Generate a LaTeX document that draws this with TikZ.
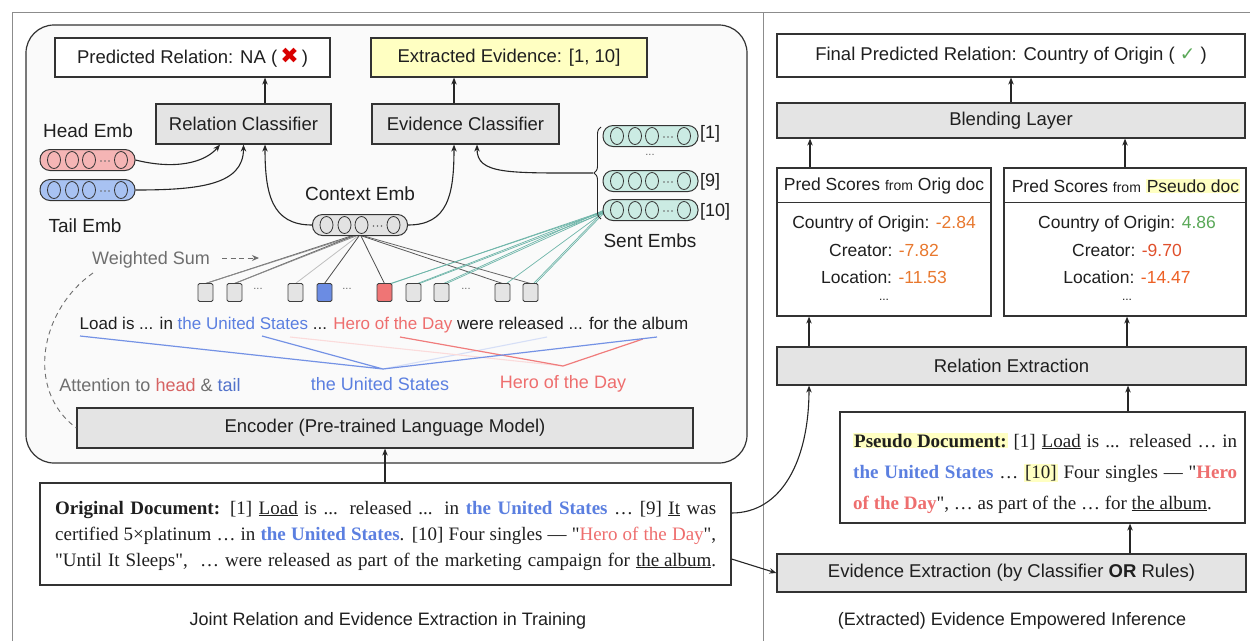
\documentclass[tikz,border=0pt]{standalone}
\usepackage{fontspec}
\setmainfont{Liberation Sans}
\newfontfamily\tms{Liberation Serif}
\newfontfamily\djv{DejaVu Sans}
\usetikzlibrary{arrows.meta,fit,decorations.pathreplacing,calc}
\definecolor{boxgray}{HTML}{E4E4E4}
\definecolor{hlyellow}{HTML}{FFFFC2}
\definecolor{eblue}{HTML}{5B7FE0}
\definecolor{ered}{HTML}{EE6E6E}
\definecolor{teal2}{HTML}{3E9C8C}
\definecolor{sorange}{HTML}{E8782E}
\definecolor{sgreen}{HTML}{5AA858}
\definecolor{sred}{HTML}{E0502C}
\definecolor{headfill}{HTML}{F5B5B5}
\definecolor{tailfill}{HTML}{A8C2F2}
\definecolor{sentfill}{HTML}{CBEBE3}
\definecolor{ctxfill}{HTML}{E2E2E2}
\definecolor{txtgray}{HTML}{6E6E6E}
\newcommand\fs[1]{\fontsize{#1}{#1}\selectfont}
\newcommand\hl[1]{{\setlength\fboxsep{1pt}\colorbox{hlyellow}{#1}}}
\tikzset{
  box/.style={draw=black!80, line width=1.2pt, inner sep=0pt, fill=white},
  gbox/.style={box, fill=boxgray},
  arr/.style={line width=1.1pt, black!85, -{Stealth[length=7pt,width=5.5pt]}},
  emb/.style={draw=black!80, line width=1pt, rounded corners=10pt, minimum width=95pt, minimum height=21pt, inner sep=0pt},
  tok/.style={draw=black!75, line width=.9pt, fill=boxgray, minimum width=15pt, minimum height=18pt, inner sep=0pt, rounded corners=1.5pt},
  lbl/.style={font=\fs{19}, inner sep=0pt, text=black!88},
  txt/.style={inner sep=0pt, text=black!88},
  btxt/.style={txt, font=\fs{18.5}},
}
% box with centred text: style, name, fit corners, text
\newcommand\tbox[4]{%
  \node[#1, fit={#3}] (#2) {};
  \node[btxt] (#2-t) at (#2.center) {#4};
}
\newcommand\embv[4]{%
  \node[emb, fill=#4] (#1) at (#2,#3) {};
  \foreach \dx in {-33.5,-15.5,1.5,33.5} {\draw[line width=.8pt, black!80] (#2+\dx,#3) ellipse (6.5 and 8.5);}
  \foreach \dx in {13.5,17.5,21.5} {\fill[black!60] (#2+\dx,#3+1) circle (0.9);}
}
\begin{document}
\begin{tikzpicture}[x=1pt,y=-1pt]
\useasboundingbox (0,0) rectangle (1250,641);
% frame
\draw[black!45, line width=1pt] (12,641) -- (12,12) -- (1250,12);
\draw[black!45, line width=1pt] (763,12) -- (763,641);
% big rounded box
\draw[line width=1.2pt, draw=black!80, fill=black!2, rounded corners=28pt] (26,25) rectangle (747,463);

% ---------- left panel ----------
\tbox{box}{predrel}{(55,38)(330,77)}{Predicted Relation: NA (\,{\djv\fs{22}\color{red!85!black}✖}\,)}
\tbox{box, fill=hlyellow}{extevid}{(371,38)(647,77)}{Extracted Evidence: [1, 10]}
\tbox{gbox}{relcls}{(156,104)(331,144)}{Relation Classifier}
\tbox{gbox}{evicls}{(372,104)(559,144)}{Evidence Classifier}
\draw[arr] ([xshift=21.5pt]relcls.north) -- ([xshift=21.5pt]relcls.north |- predrel.south);
\draw[arr] ([xshift=-11.5pt]evicls.north) -- ([xshift=-11.5pt]evicls.north |- extevid.south);

\node[lbl] (headlbl) at (88,131) {Head Emb};
\embv{head}{87.5}{160}{headfill}
\embv{tail}{87.5}{190}{tailfill}
\node[lbl] (taillbl) at (85,226) {Tail Emb};
\node[lbl] (ctxlbl) at (360,194) {Context Emb};

% token lines (under tokens)
\foreach \n/\x in {t1/205.5, t2/234.5, t3/295.5, t6/413.5, t7/441.5, t8/502.5, t9/530.5}
  \coordinate (\n c) at (\x,283.5);
\coordinate (t4c) at (324.5,283.5);
\coordinate (t5c) at (384.5,283.5);
\coordinate (ctxb) at (358,236);
\foreach \s/\t/\c in {-7/t1/60, -4/t1/45, -5/t2/60, -2/t2/45, 0/t3/25, 1/t4/70, 3/t5/70, 4/t8/65, 6/t9/60}
  \draw[black!\c, line width=.8pt] ([xshift=\s pt]ctxb) -- (\t c);
\coordinate (s10w) at (604,212);
\foreach \s/\t/\dx in {0/t5/6, 1/t5/7, -1/t6/6, 1/t6/4, 0/t7/5, 2/t7/2, 0/t8/4, 1/t9/3, -1/t9/5}
  \draw[teal2!75, line width=.7pt] ([yshift=\s pt]s10w) -- ([xshift=\dx pt]\t c);

\embv{ctx}{360}{225}{ctxfill}
\embv{s1}{650.5}{136}{sentfill}
\embv{s9}{650.5}{181}{sentfill}
\embv{s10}{650.5}{210}{sentfill}
\node[lbl, font=\fs{18}, anchor=west] (l1) at (700,134) {[1]};
\node[lbl, font=\fs{18}, anchor=west] (l9) at (700,182) {[9]};
\node[lbl, font=\fs{18}, anchor=west] (l10) at (700,212) {[10]};
\node[lbl, font=\fs{11}, text=black!60] (sdots) at (650,155) {...};
\node[lbl] (sentlbl) at (650,241) {Sent Embs};

% brace
\draw[decorate, decoration={brace, amplitude=7pt}, line width=.9pt, black!85] (601,219) -- (601,127);
\coordinate (bt) at (593,173);

% arrows to classifiers
\draw[arr] (head.east) .. controls +(40,10) and +(-15,18) .. ([xshift=-23.5pt]relcls.south);
\draw[arr] (tail.east) .. controls +(65,0) and +(0,40) .. (relcls.south);
\draw[arr] (ctx.west) .. controls +(-40,0) and +(0,50) .. ([xshift=21.5pt]relcls.south);
\draw[arr] (ctx.east) .. controls +(40,0) and +(0,50) .. ([xshift=-11.5pt]evicls.south);
\draw[arr] (bt) .. controls +(-85,0) and +(0,30) .. ([xshift=11.5pt]evicls.south);

% tokens
\foreach \n/\x in {t1/205.5, t2/234.5, t3/295.5, t6/413.5, t7/441.5, t8/502.5, t9/530.5}
  \node[tok] (\n) at (\x,292.5) {};
\node[tok, fill=eblue!90] (t4) at (324.5,292.5) {};
\node[tok, fill=ered!95] (t5) at (384.5,292.5) {};
\node[txt, font=\fs{11}, text=black!60] (d1) at (258,289) {...};
\node[txt, font=\fs{11}, text=black!60] (d2) at (347,289) {...};
\node[txt, font=\fs{11}, text=black!60] (d3) at (466,289) {...};

\node[lbl, font=\fs{18}, text=txtgray] (wsum) at (151,260) {Weighted Sum};
\coordinate (wsA) at (222,258);
\coordinate (wsB) at (259,258);
\draw[txtgray, dash pattern=on 5pt off 3.5pt, line width=.9pt, -{Stealth[length=7pt,width=6pt]}] (wsA) -- (wsB);

\node[txt, font=\fs{17}] (sent) at (384,325) {Load is ... in {\color{eblue}the United States} ... {\color{ered}Hero of the Day} were released ... for the album};

% attention lines
\coordinate (cb) at (383,369);
\coordinate (cr) at (563,366);
\coordinate (aLoad) at (80,336);
\coordinate (aStates) at (262,336);
\coordinate (aAlbum) at (657,337);
\coordinate (aWere) at (547,337);
\coordinate (aHero) at (400,337);
\coordinate (aAlb2) at (643,339);
\coordinate (aFaint) at (290,337);
\draw[eblue!25, line width=1.1pt] (aWere) -- (cb);
\draw[ered!25, line width=1.1pt] (aFaint) -- (cr);
\draw[eblue!85, line width=1.2pt] (aLoad) -- (cb) -- (aStates);
\draw[ered!90, line width=1.2pt] (aHero) -- (cr) -- (aAlb2);
\draw[eblue!85, line width=1.2pt] (cb) -- (aAlbum);

\node[txt, font=\fs{18}, text=eblue] (lus) at (380,384) {the United States};
\node[txt, font=\fs{18}, text=ered] (lhero) at (563,384) {Hero of the Day};
\node[txt, font=\fs{18}, text=txtgray] (att) at (150,385) {Attention to {\color{ered!90!black}head} \& {\color{eblue!90!black}tail}};

\tbox{gbox}{enc}{(77,408)(693,448)}{Encoder (Pre-trained Language Model)}
\coordinate (dcs) at (93,273);
\draw[txtgray, dash pattern=on 5pt off 4pt, line width=.9pt] (dcs) .. controls (40,310) and (25,390) .. (enc.west);

% original document
\node[box, fit={(40,483)(731,585)}] (doc) {};
\draw[arr] (doc.north -| enc.south) -- (enc.south);
\node[txt, anchor=base west, font=\tms\fs{19}] (dl1) at (55,514) {\makebox[661pt][s]{\textbf{Original Document:} [1] \underline{Load} is ... released ... in {\bfseries\color{eblue}the United States} … [9] \underline{It} was}};
\node[txt, anchor=base west, font=\tms\fs{19}] (dl2) at (55,540) {\makebox[661pt][s]{certified 5×platinum … in {\bfseries\color{eblue}the United States}. [10] Four singles — "{\color{ered}Hero of the Day}",}};
\node[txt, anchor=base west, font=\tms\fs{19}] (dl3) at (55,566) {\makebox[661pt][s]{"Until It Sleeps", \ … were released as part of the marketing campaign for \underline{the album}.}};
\node[txt, font=\fs{18}] (cap1) at (388,621) {Joint Relation and Evidence Extraction in Training};

% ---------- right panel ----------
\tbox{box}{final}{(777,34)(1245,77)}{Final Predicted Relation: Country of Origin ( {\djv\color{sgreen}✓} )}
\tbox{gbox}{blend}{(777,103)(1245,138)}{Blending Layer}
\node[box, fit={(777,168)(991,316)}] (origsc) {};
\node[box, fit={(1004,168)(1246,316)}] (pseudosc) {};
\draw[line width=1.2pt, black!80] ([yshift=-35pt]origsc.north west) -- ([yshift=-35pt]origsc.north east);
\draw[line width=1.2pt, black!80] ([yshift=-35pt]pseudosc.north west) -- ([yshift=-35pt]pseudosc.north east);
\node[txt, font=\fs{17.5}] (oh) at (884,186) {Pred Scores {\fs{14}from} Orig doc};
\node[txt, font=\fs{17.5}] (ph) at (1126,186) {Pred Scores {\fs{14}from} \hl{Pseudo doc}};
\node[txt, font=\fs{17.5}] (o1) at (884,224) {Country of Origin: {\color{sorange}-2.84}};
\node[txt, font=\fs{17.5}] (o2) at (884,250) {Creator: {\color{sorange}-7.82}};
\node[txt, font=\fs{17.5}] (o3) at (884,277) {Location: {\color{sorange}-11.53}};
\node[txt, font=\fs{12}] (o4) at (884,300) {...};
\node[txt, font=\fs{17.5}] (p1) at (1127,224) {Country of Origin: {\color{sgreen}4.86}};
\node[txt, font=\fs{17.5}] (p2) at (1127,250) {Creator: {\color{sred}-9.70}};
\node[txt, font=\fs{17.5}] (p3) at (1127,277) {Location: {\color{sorange!80!red}-14.47}};
\node[txt, font=\fs{12}] (p4) at (1127,300) {...};

\tbox{gbox}{relex}{(777,347)(1246,385)}{Relation Extraction}
\node[box, fit={(840,412)(1245,523)}] (pdoc) {};
\node[txt, anchor=base west, font=\tms\fs{19}] (pl1) at (853,447) {\makebox[384pt][s]{\hl{\textbf{Pseudo Document:}} [1] \underline{Load} is ... released … in}};
\node[txt, anchor=base west, font=\tms\fs{19}] (pl2) at (853,478) {\makebox[384pt][s]{{\bfseries\color{eblue}the United States} … \hl{[10]} Four singles — "{\bfseries\color{ered}Hero}}};
\node[txt, anchor=base west, font=\tms\fs{19}] (pl3) at (853,509) {{\bfseries\color{ered}of the Day}", … as part of the … for \underline{the album}.};
\tbox{gbox}{evex}{(777,554)(1246,592)}{Evidence Extraction (by Classifier \textbf{OR} Rules)}
\node[txt, font=\fs{18}] (cap2) at (1012,621) {(Extracted) Evidence Empowered Inference};

\draw[arr] (blend.north) -- (final.south);
\draw[arr] ([xshift=-74pt]origsc.north) -- ([xshift=-74pt]origsc.north |- blend.south);
\draw[arr] (pseudosc.north) -- (pseudosc.north |- blend.south);
\draw[arr] ([xshift=-75pt]origsc.south |- relex.north) -- ([xshift=-75pt]origsc.south);
\draw[arr] ([xshift=2pt]pseudosc.south |- relex.north) -- ([xshift=2pt]pseudosc.south);
\draw[arr] ([xshift=85.5pt]pdoc.north) -- ([xshift=85.5pt]pdoc.north |- relex.south);
\draw[arr] ([xshift=87.5pt]pdoc.south |- evex.north) -- ([xshift=87.5pt]pdoc.south);
\draw[arr] ([yshift=21pt]doc.east) .. controls +(50,0) and +(0,75) .. ([xshift=-202.5pt]relex.south);
\draw[arr] ([yshift=-25pt]doc.east) -- (evex.west);
\end{tikzpicture}
\end{document}
